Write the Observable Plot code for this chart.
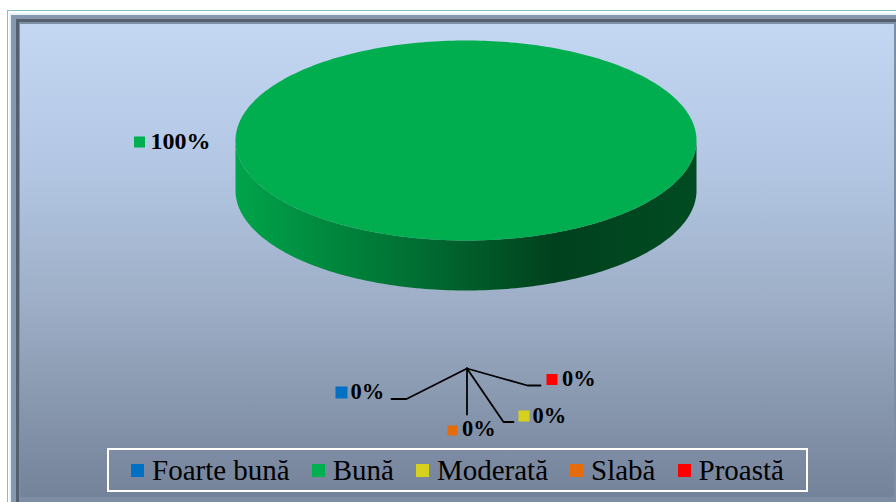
<!DOCTYPE html>
<html>
<head>
<meta charset="utf-8">
<script src="https://cdn.jsdelivr.net/npm/d3@7"></script>
<script src="https://cdn.jsdelivr.net/npm/@observablehq/plot@0.6"></script>
<style>
  html, body { margin: 0; padding: 0; background: #fff; }
  #wrap { position: relative; width: 896px; height: 502px; overflow: hidden; background: #fff; }
  .f { position: absolute; }
  #chart svg { position: absolute; left: 0; top: 0; background: transparent; }
  #legend { position: absolute; left: 107px; top: 448px; width: 701px; height: 44px; box-sizing: border-box;
    border: 2px solid #fff; display: flex; align-items: center; padding-left: 22px;
    font-family: "Liberation Serif", "Times New Roman", serif; font-size: 29px; color: #000; white-space: nowrap; }
  #legend .it { display: flex; align-items: center; margin-right: 22px; }
  #legend .sw { width: 13px; height: 13px; margin-right: 8px; flex: none; }
</style>
</head>
<body>
<div id="wrap">
  <div class="f" style="left:7px;top:10px;right:-10px;bottom:-10px;border-left:1.5px solid #7fc2cb;border-top:1.5px solid #7fc2cb;"></div>
  <div class="f" style="left:9px;top:12.5px;right:0;bottom:0;background:#e4f2fa;"></div>
  <div class="f" style="left:11px;top:15px;right:0;bottom:0;background:#8797ad;"></div>
  <div class="f" style="left:16px;top:19px;right:0;bottom:0;background:#55606e;"></div>
  <div class="f" style="left:19px;top:22px;right:0;bottom:0;background:#7d8da4;"></div>
  <div class="f" style="left:20px;top:24px;right:2px;bottom:5px;background:linear-gradient(#c3d6f2 0%, #b3c7e4 30%, #9eafc7 58%, #8a9ab1 78%, #74829a 100%);"></div>
  <div id="chart"></div>
  <div id="legend"></div>
</div>
<script>
// ---- data ----
const categories = ["Foarte bună", "Bună", "Moderată", "Slabă", "Proastă"];
const values = [0, 100, 0, 0, 0];
const colors = ["#0070c4", "#00b050", "#d5d11c", "#e46c0a", "#ff0000"];

// ---- layout ----
const W = 896, H = 502;
const pie = { cx: 465.5, cy: 140, rx: 230.5, ry: 100, depth: 50 };
const apex = [466.5, 368];
const labelLayout = [
  { sq: [341.5, 392.5], s: 12, tx: 350, base: 398, fs: 22.5, lead: [apex, [406, 398.5], [391, 398.5]] },
  { sq: [139.5, 142], s: 11, tx: 150, base: 148, fs: 24, lead: null },
  { sq: [524, 416], s: 11, tx: 532, base: 422, fs: 22.5, lead: [apex, [503, 421.5], [513, 421.5]] },
  { sq: [452.5, 430.5], s: 10, tx: 461.5, base: 435.5, fs: 22.5, lead: [apex, [466.5, 414]] },
  { sq: [552, 379.5], s: 11, tx: 561.5, base: 385, fs: 22.5, lead: [apex, [527, 385], [540, 385]] }
];

const total = d3.sum(values);
const arcs = d3.pie().sort(null).startAngle(0).endAngle(2 * Math.PI)(values);
const pt = (a, dy = 0) => ({ x: pie.cx + pie.rx * Math.sin(a), y: pie.cy - pie.ry * Math.cos(a) + dy });

const marks = [];
const defs = [];
arcs.forEach((a, i) => {
  const span = a.endAngle - a.startAngle;
  if (span <= 0) return;
  const c = d3.color(colors[i]);
  // side (front half only)
  const s0 = Math.max(a.startAngle, Math.PI / 2), s1 = Math.min(a.endAngle, 3 * Math.PI / 2);
  if (s1 > s0) {
    const m = Math.ceil((s1 - s0) / Math.PI * 160);
    const side = [];
    for (let j = 0; j <= m; j++) side.push(pt(s0 + (s1 - s0) * j / m));
    for (let j = m; j >= 0; j--) side.push(pt(s0 + (s1 - s0) * j / m, pie.depth));
    defs.push({ id: "side" + i, stops: [[0, c.darker(0.2)], [0.4, c.darker(1.34)], [0.69, c.darker(2.8)], [1, c.darker(2.4)]] });
    marks.push(Plot.line(side, { x: "x", y: "y", fill: `url(#side${i})`, stroke: "none", curve: "linear" }));
  }
  // top face
  const n = Math.ceil(span / (2 * Math.PI) * 320);
  const top = [];
  if (span < 2 * Math.PI - 1e-9) top.push({ x: pie.cx, y: pie.cy });
  for (let j = 0; j <= n; j++) top.push(pt(a.startAngle + span * j / n));
  marks.push(Plot.line(top, { x: "x", y: "y", fill: c.darker(0.04).formatHex(), stroke: "none", curve: "linear" }));
});

// leader lines
const leadPts = [];
labelLayout.forEach((L, i) => { if (L.lead) L.lead.forEach(p => leadPts.push({ x: p[0], y: p[1], k: i })); });
marks.push(Plot.line(leadPts, { x: "x", y: "y", z: "k", stroke: "#000", strokeWidth: 1.8, curve: "linear" }));

// label squares and texts
const lab = categories.map((cat, i) => ({
  cat, color: colors[i],
  text: Math.round(values[i] / total * 100) + "%",
  ...labelLayout[i]
}));
marks.push(Plot.rect(lab, {
  x1: d => d.sq[0] - d.s / 2, x2: d => d.sq[0] + d.s / 2,
  y1: d => d.sq[1] - d.s / 2, y2: d => d.sq[1] + d.s / 2,
  fill: d => d.color
}));
[22.5, 24].forEach(fs => {
  marks.push(Plot.text(lab.filter(d => d.fs === fs), {
    x: "tx", y: d => d.base - 0.32 * d.fs, text: "text",
    textAnchor: "start", fontSize: fs, fontWeight: "bold", fill: "#000",
    fontFamily: "Liberation Serif"
  }));
});

const svg = Plot.plot({
  width: W, height: H,
  margin: 0,
  x: { domain: [0, W], range: [0, W], axis: null },
  y: { domain: [0, H], range: [0, H], axis: null },
  color: { type: "identity" },
  style: { background: "transparent", fontFamily: "Liberation Serif", overflow: "visible" },
  marks
});

const sd = d3.select(svg).insert("defs", ":first-child");
defs.forEach(g => {
  const lg = sd.append("linearGradient").attr("id", g.id).attr("gradientUnits", "userSpaceOnUse")
    .attr("x1", pie.cx - pie.rx).attr("x2", pie.cx + pie.rx).attr("y1", 0).attr("y2", 0);
  g.stops.forEach(([o, col]) => lg.append("stop").attr("offset", o).attr("stop-color", col.formatHex()));
});
document.getElementById("chart").appendChild(svg);

// legend
const leg = d3.select("#legend");
categories.forEach((cat, i) => {
  const it = leg.append("div").attr("class", "it");
  it.append("div").attr("class", "sw").style("background", colors[i]);
  it.append("span").text(cat);
});
</script>
</body>
</html>
